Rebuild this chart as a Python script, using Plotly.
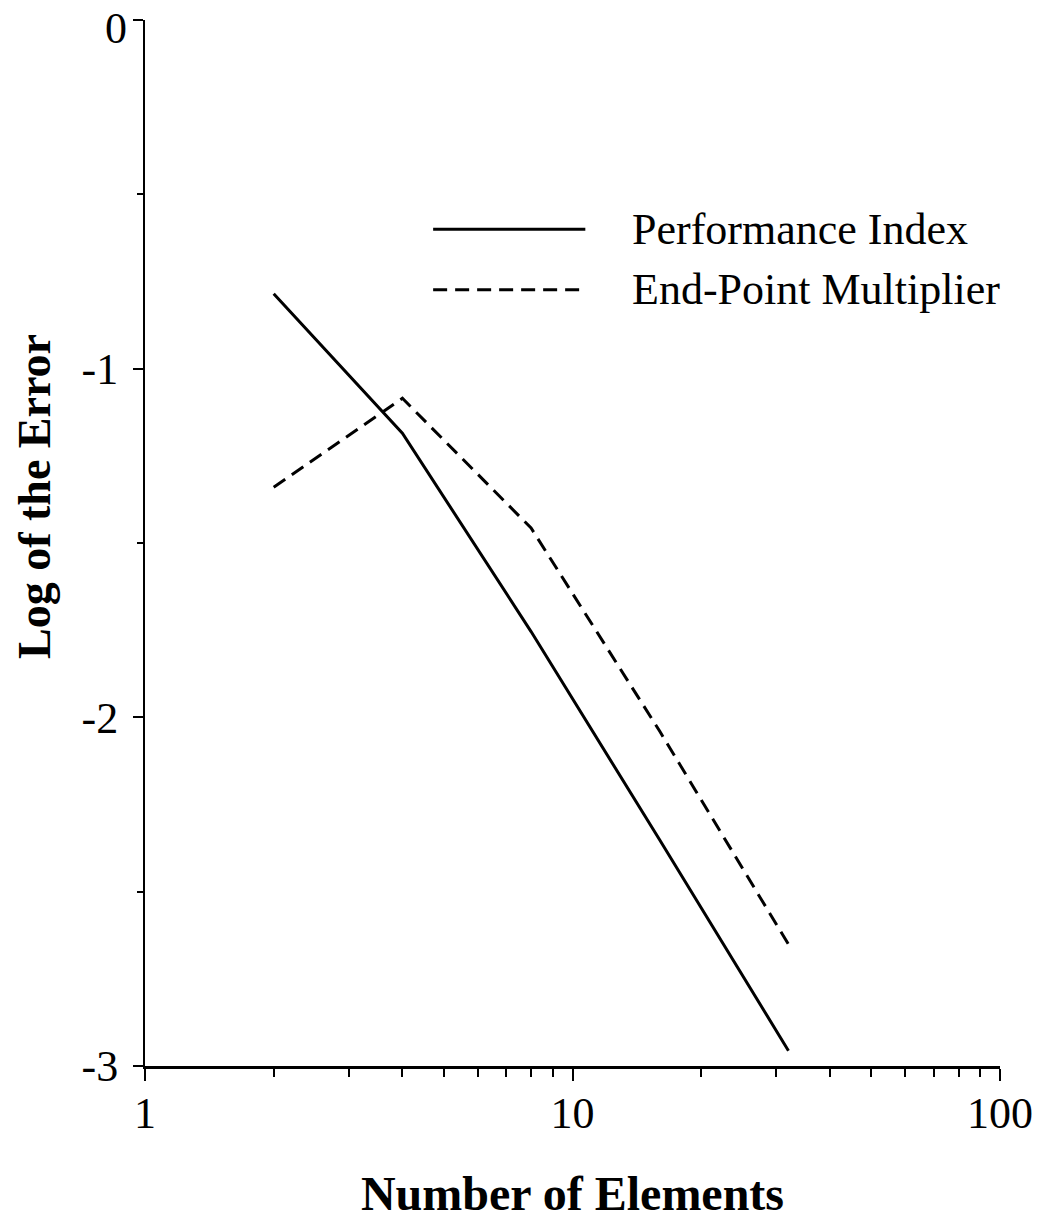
import plotly.graph_objects as go

# Number of elements in the mesh
elements = [2, 4, 8, 16, 32]

# log10 of the error for each approach
performance_index = [-0.785, -1.185, -1.754, -2.352, -2.956]
end_point_multiplier = [-1.34, -1.085, -1.457, -2.04, -2.651]

series_names = ["Performance Index", "End-Point Multiplier"]

x_tick_vals = [1, 10, 100]
x_tick_text = ["1", "10", "100"]
x_minor_vals = [2, 3, 4, 5, 6, 7, 8, 9, 20, 30, 40, 50, 60, 70, 80, 90]
y_tick_vals = [0, -1, -2, -3]
y_tick_text = ["0", "-1", "-2", "-3"]

serif = "Liberation Serif, Times New Roman, serif"
dash_style = "14px,8px"
line_styles = [dict(color="black", width=3),
               dict(color="black", width=3, dash=dash_style)]

fig = go.Figure()
for name, values, style in zip(series_names,
                               [performance_index, end_point_multiplier],
                               line_styles):
    fig.add_trace(go.Scatter(x=elements, y=values, mode="lines", name=name,
                             line=style, showlegend=False))

# Key drawn inside the plot area: a line sample followed by the label
key_rows_y = [0.800, 0.742]
for name, style, ky in zip(series_names, line_styles, key_rows_y):
    fig.add_shape(type="line", xref="paper", yref="paper",
                  x0=0.337, x1=0.515, y0=ky, y1=ky, line=style)
    fig.add_annotation(xref="paper", yref="paper", x=0.567, y=ky,
                       text=name, showarrow=False, xanchor="left",
                       yanchor="middle",
                       font=dict(family=serif, size=44, color="black"))

# Vertical axis title, set a little above the middle of the axis
fig.add_annotation(xref="paper", yref="paper", x=0, y=0.544, xshift=-110,
                   text="<b>Log of the Error</b>", textangle=-90,
                   showarrow=False, xanchor="center", yanchor="middle",
                   font=dict(family=serif, size=46, color="black"))

# The top tick label sits just below its tick so it stays on the page
fig.add_annotation(xref="paper", yref="y", x=0, y=y_tick_vals[0],
                   xshift=-16, yshift=-8, text=y_tick_text[0],
                   showarrow=False, xanchor="right", yanchor="middle",
                   font=dict(family=serif, size=44, color="black"))
y_axis_text = [""] + y_tick_text[1:]

fig.update_layout(
    width=1038, height=1226,
    margin=dict(l=145, r=38, t=20, b=160),
    paper_bgcolor="white", plot_bgcolor="white",
    font=dict(family=serif, size=44, color="black"),
    showlegend=False,
    xaxis=dict(
        type="log", range=[0, 2], automargin=False,
        tickmode="array", tickvals=x_tick_vals, ticktext=x_tick_text,
        ticks="outside", ticklen=12, tickwidth=2, tickcolor="black",
        ticklabeloverflow="allow", ticklabelstandoff=-6,
        showline=True, linecolor="black", linewidth=3,
        showgrid=False, zeroline=False,
        minor=dict(tickvals=x_minor_vals, ticks="outside", ticklen=8,
                   tickwidth=2, tickcolor="black", showgrid=False),
        tickfont=dict(family=serif, size=44),
        title=dict(text="<b>Number of Elements</b>", standoff=40,
                   font=dict(family=serif, size=48)),
    ),
    yaxis=dict(
        range=[-3, 0], automargin=False,
        tickmode="array", tickvals=y_tick_vals, ticktext=y_axis_text,
        ticks="outside", ticklen=10, tickwidth=2, tickcolor="black",
        ticklabeloverflow="allow", ticklabelstandoff=6,
        showline=True, linecolor="black", linewidth=2,
        showgrid=False, zeroline=False,
        minor=dict(dtick=0.5, ticks="outside", ticklen=6, tickwidth=2,
                   tickcolor="black", showgrid=False),
        tickfont=dict(family=serif, size=44),
    ),
)

fig.write_html("out.html")
